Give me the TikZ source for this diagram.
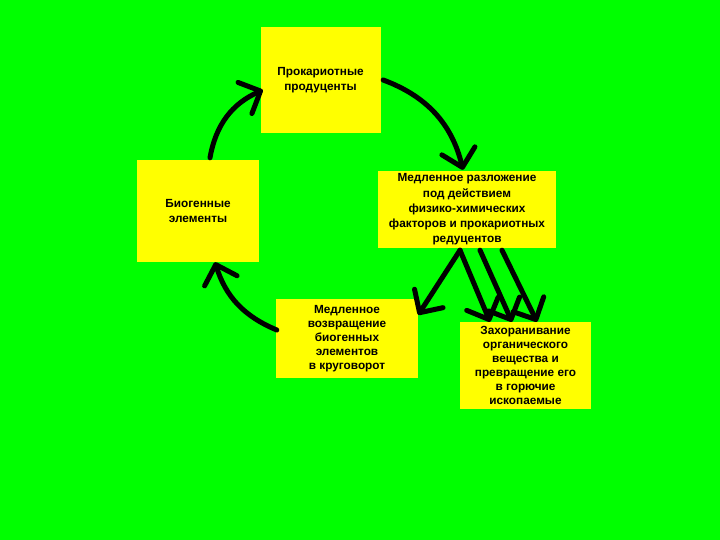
\documentclass[tikz,border=0pt]{standalone}
\usepackage{fontspec}
\setmainfont{Liberation Sans}
\usetikzlibrary{arrows.meta}
\definecolor{bggreen}{RGB}{0,255,0}
\definecolor{boxyellow}{RGB}{255,255,0}
\tikzset{
  box/.style={fill=boxyellow, draw=none, inner sep=0pt, align=center,
    font=\bfseries\fontsize{11.8}{15.2}\selectfont},
  tight/.style={font=\bfseries\fontsize{11.8}{14}\selectfont},
  conn/.style={line width=5pt, line cap=round, black,
    -{Straight Barb[length=17pt,width=34pt,round]}},
}
\begin{document}
\begin{tikzpicture}[x=1pt,y=-1pt]
\fill[bggreen] (0,0) rectangle (720,540);
\useasboundingbox (0,0) rectangle (720,540);

\node[box, minimum width=120pt, minimum height=106pt] (b1) at (320.5,80) {Прокариотные\\продуценты};
\node[box, minimum width=178pt, minimum height=76pt] (b2) at (467,209.5) {Медленное разложение\\под действием\\физико-химических\\факторов и прокариотных\\редуцентов};
\node[box, minimum width=122pt, minimum height=102pt] (b3) at (198,211) {Биогенные\\элементы};
\node[box, tight, minimum width=142pt, minimum height=79pt] (b4) at (347,338.5) {Медленное\\возвращение\\биогенных\\элементов\\в круговорот};
\node[box, tight, minimum width=131pt, minimum height=87pt] (b5) at (525.5,365.5) {Захоранивание\\органического\\вещества и\\превращение его\\в горючие\\ископаемые};

\draw[conn] ([xshift=12pt,yshift=2pt]b3.north) to[bend left=28] ([xshift=2.5pt,yshift=-10pt]b1.west);
\draw[conn] ([xshift=2.5pt]b1.east) to[bend left=28] ([xshift=-4pt,yshift=1.5pt]b2.north);
\draw[conn] ([xshift=-7pt,yshift=-2.5pt]b2.south) -- ([yshift=-16pt]b4.north east);
\draw[conn] ([xshift=1pt,yshift=8.5pt]b4.west) to[bend left=25] ([xshift=17pt]b3.south);
\draw[conn] ([xshift=-7pt,yshift=-2.5pt]b2.south) -- ([xshift=-35.5pt]b5.north);
\draw[conn] ([xshift=13pt,yshift=-2.5pt]b2.south) -- ([xshift=-13.5pt]b5.north);
\draw[conn] ([xshift=35pt,yshift=-2.5pt]b2.south) -- ([xshift=11.5pt]b5.north);
\end{tikzpicture}
\end{document}
